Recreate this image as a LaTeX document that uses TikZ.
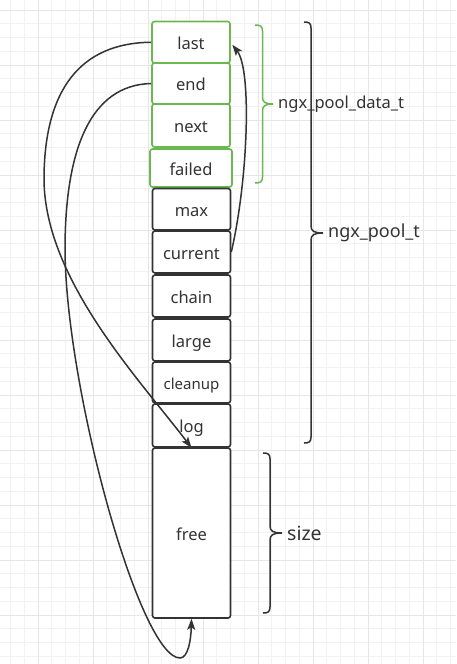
\documentclass[tikz,border=0pt]{standalone}
\usepackage{fontspec}
\setmainfont{Noto Sans}
\usetikzlibrary{arrows.meta}
\definecolor{grn}{HTML}{6AB84F}
\definecolor{ink}{HTML}{333333}
\definecolor{gminor}{HTML}{F2F2F2}
\definecolor{gmajor}{HTML}{E6E6E6}
\begin{document}
\begin{tikzpicture}[x=1pt,y=-1pt,
  cell/.style={draw=ink, line width=1.6pt, rounded corners=2.5pt, fill=white,
    inner sep=0pt, text=ink, text height=16pt, text depth=1.2pt, font=\fontsize{16.5}{19}\selectfont},
  gcell/.style={cell, draw=grn},
  link/.style={draw=ink, line width=1.5pt, -{Stealth[length=11pt,width=8pt,inset=2.5pt]}},
  gbrace/.style={draw=grn, line width=1.5pt},
  kbrace/.style={draw=ink, line width=1.5pt},
  lbl/.style={anchor=west, inner sep=0pt, text=ink}]
\fill[white] (0,0) rectangle (456,664);
\useasboundingbox (0,0) rectangle (456,664);
% grid
\foreach \i in {0,...,32} \draw[gminor, line width=0.8pt] (10.5+13.75*\i,0) -- (10.5+13.75*\i,664);
\foreach \i in {0,...,47} \draw[gminor, line width=0.8pt] (0,10+13.75*\i) -- (456,10+13.75*\i);
\foreach \i in {0,...,7} \draw[gmajor, line width=1pt] (38+55*\i,0) -- (38+55*\i,664);
\foreach \i in {0,...,11} \draw[gmajor, line width=1pt] (0,10+55*\i) -- (456,10+55*\i);

% cells
\node[gcell, minimum width=78pt, minimum height=41.5pt] (last) at (191,42.25) {last};
\node[gcell, minimum width=78pt, minimum height=41pt] (nend) at (191,83.5) {end};
\node[gcell, minimum width=78pt, minimum height=43pt] (next) at (191,125.5) {next};
\node[gcell, minimum width=82pt, minimum height=38pt] (failed) at (191,168) {failed};
\node[cell, minimum width=78pt, minimum height=41.5pt] (max) at (191.5,209.25) {max};
\node[cell, minimum width=78pt, minimum height=42pt] (current) at (191.5,252) {current};
\node[cell, minimum width=78pt, minimum height=42pt] (chain) at (191.5,296) {chain};
\node[cell, minimum width=78pt, minimum height=42pt] (large) at (191.5,340) {large};
\node[cell, minimum width=78pt, minimum height=41pt, font=\fontsize{15}{18}\selectfont, text height=15pt, text depth=1.4pt] (cleanup) at (191.5,382.5) {cleanup};
\node[cell, minimum width=78pt, minimum height=43pt] (log) at (191.5,425.5) {log};
\node[cell, minimum width=78pt, minimum height=170pt] (free) at (191.5,533) {free};

% braces
\draw[gbrace] (255,25) .. controls (260,25) and (262.5,26) .. (262.5,31) -- (262.5,97)
  .. controls (262.5,102) and (265,104) .. (273,104)
  .. controls (265,104) and (262.5,106) .. (262.5,111) -- (262.5,177)
  .. controls (262.5,182) and (260,183) .. (255,183);
\node[lbl, font=\fontsize{16.5}{19}\selectfont] (pdt) at (278,104) {ngx\_pool\_data\_t};

\draw[kbrace] (304,22) .. controls (309,22) and (311,23) .. (311,28) -- (311,226)
  .. controls (311,231) and (314,233) .. (323,233)
  .. controls (314,233) and (311,235) .. (311,240) -- (311,437)
  .. controls (311,442) and (309,443) .. (304,443);
\node[lbl, font=\fontsize{18}{21}\selectfont] (pt) at (328,233) {ngx\_pool\_t};

\draw[kbrace] (263,453) .. controls (268,453) and (270,454) .. (270,459) -- (270,526)
  .. controls (270,531) and (273,533) .. (282,533)
  .. controls (273,533) and (270,535) .. (270,540) -- (270,607)
  .. controls (270,612) and (268,613) .. (263,613);
\node[lbl, font=\fontsize{19.5}{23}\selectfont] (sz) at (287,533) {size};

% connectors
\coordinate (w1) at (44,180);
\coordinate (w2) at (65,250);
\coordinate (w3) at (180,658);
\draw[link] (last.west) .. controls (80,43) and (44,90) .. (w1)
  .. controls (45,280) and (140,380) .. (log.south);
\draw[link] (nend.west) .. controls (90,85) and (65,150) .. (w2)
  .. controls (66,390) and (140,658) .. (w3)
  .. controls (188,658) and (191,640) .. (free.south);
\draw[link] (current.east) .. controls (248,180) and (252,70) .. ([xshift=1.5pt,yshift=-2.5pt]last.east);
\end{tikzpicture}
\end{document}
